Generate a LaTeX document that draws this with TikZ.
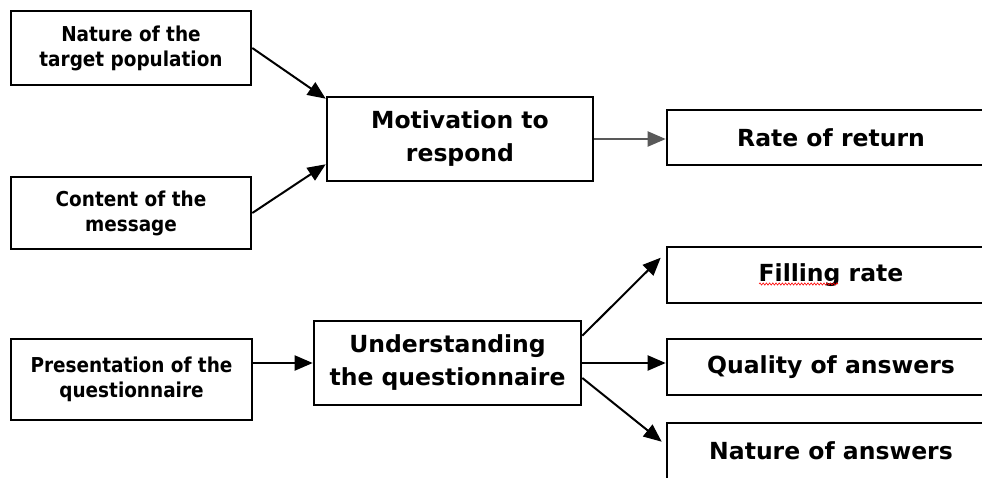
\documentclass[tikz,border=0pt]{standalone}
\usepackage{fontspec}
\setmainfont{DejaVu Sans}
\newfontfamily\condf{DejaVu Sans Condensed}
\usetikzlibrary{arrows.meta,decorations.pathmorphing}
\begin{document}
\begin{tikzpicture}[x=1pt,y=-1pt,
  box/.style={draw=black,line width=2.6pt,fill=white,inner sep=0pt,align=center,
    font=\fontsize{23.5}{33}\selectfont\bfseries},
  smallbox/.style={box,font=\fontsize{20.5}{25}\selectfont\condf\bfseries},
  arr/.style={line width=2pt,-{Triangle[length=18pt,width=15pt]}},
]
\useasboundingbox (0,0) rectangle (982,477);
\clip (0,0) rectangle (982,477);
\fill[white] (0,0) rectangle (982,477);
% left column
\node[smallbox,minimum width=240pt,minimum height=74pt] (n1) at (131,48) {Nature of the\\target population};
\node[smallbox,minimum width=240pt,minimum height=72pt] (n2) at (131,213) {Content of the\\message};
\node[smallbox,minimum width=241pt,minimum height=81pt] (pres) at (131.5,379.5) {Presentation of the\\questionnaire};
% middle column
\node[box,minimum width=266pt,minimum height=84pt] (mot) at (460,139) {Motivation to\\respond};
\node[box,minimum width=267pt,minimum height=84pt] (und) at (447.5,363) {Understanding\\the questionnaire};
% right column
\node[box,minimum width=328pt,minimum height=55pt] (rate) at (831,137.5) {Rate of return};
\node[box,minimum width=328pt,minimum height=56pt] (fill) at (831,275) {Filling rate};
\node[box,minimum width=328pt,minimum height=56pt] (qual) at (831,367) {Quality of answers};
\node[box,minimum width=328pt,minimum height=56pt] (nat) at (831,451) {Nature of answers};
% spelling squiggle
\draw[red,line width=0.6pt,decorate,decoration={snake,amplitude=1.1pt,segment length=3.2pt}]
  ([xshift=-72pt,yshift=-9pt]fill.center) -- ([xshift=7pt,yshift=-9pt]fill.center);
% connectors
\draw[arr] (n1.east) -- ([yshift=-3pt]mot.north west);
\draw[arr] (n2.east) -- ([yshift=18pt]mot.south west);
\draw[arr,draw=black!65,fill=black] (mot.east) -- (mot.east -| rate.west);
\draw[arr] (pres.east |- und.west) -- (und.west);
\draw[arr] ([yshift=-16pt]und.north east) -- ([xshift=-5pt,yshift=-12pt]fill.north west);
\draw[arr] (und.east) -- (und.east -| qual.west);
\draw[arr] ([yshift=-15pt]und.east) -- ([xshift=-4pt,yshift=-20pt]nat.north west);
\end{tikzpicture}
\end{document}
